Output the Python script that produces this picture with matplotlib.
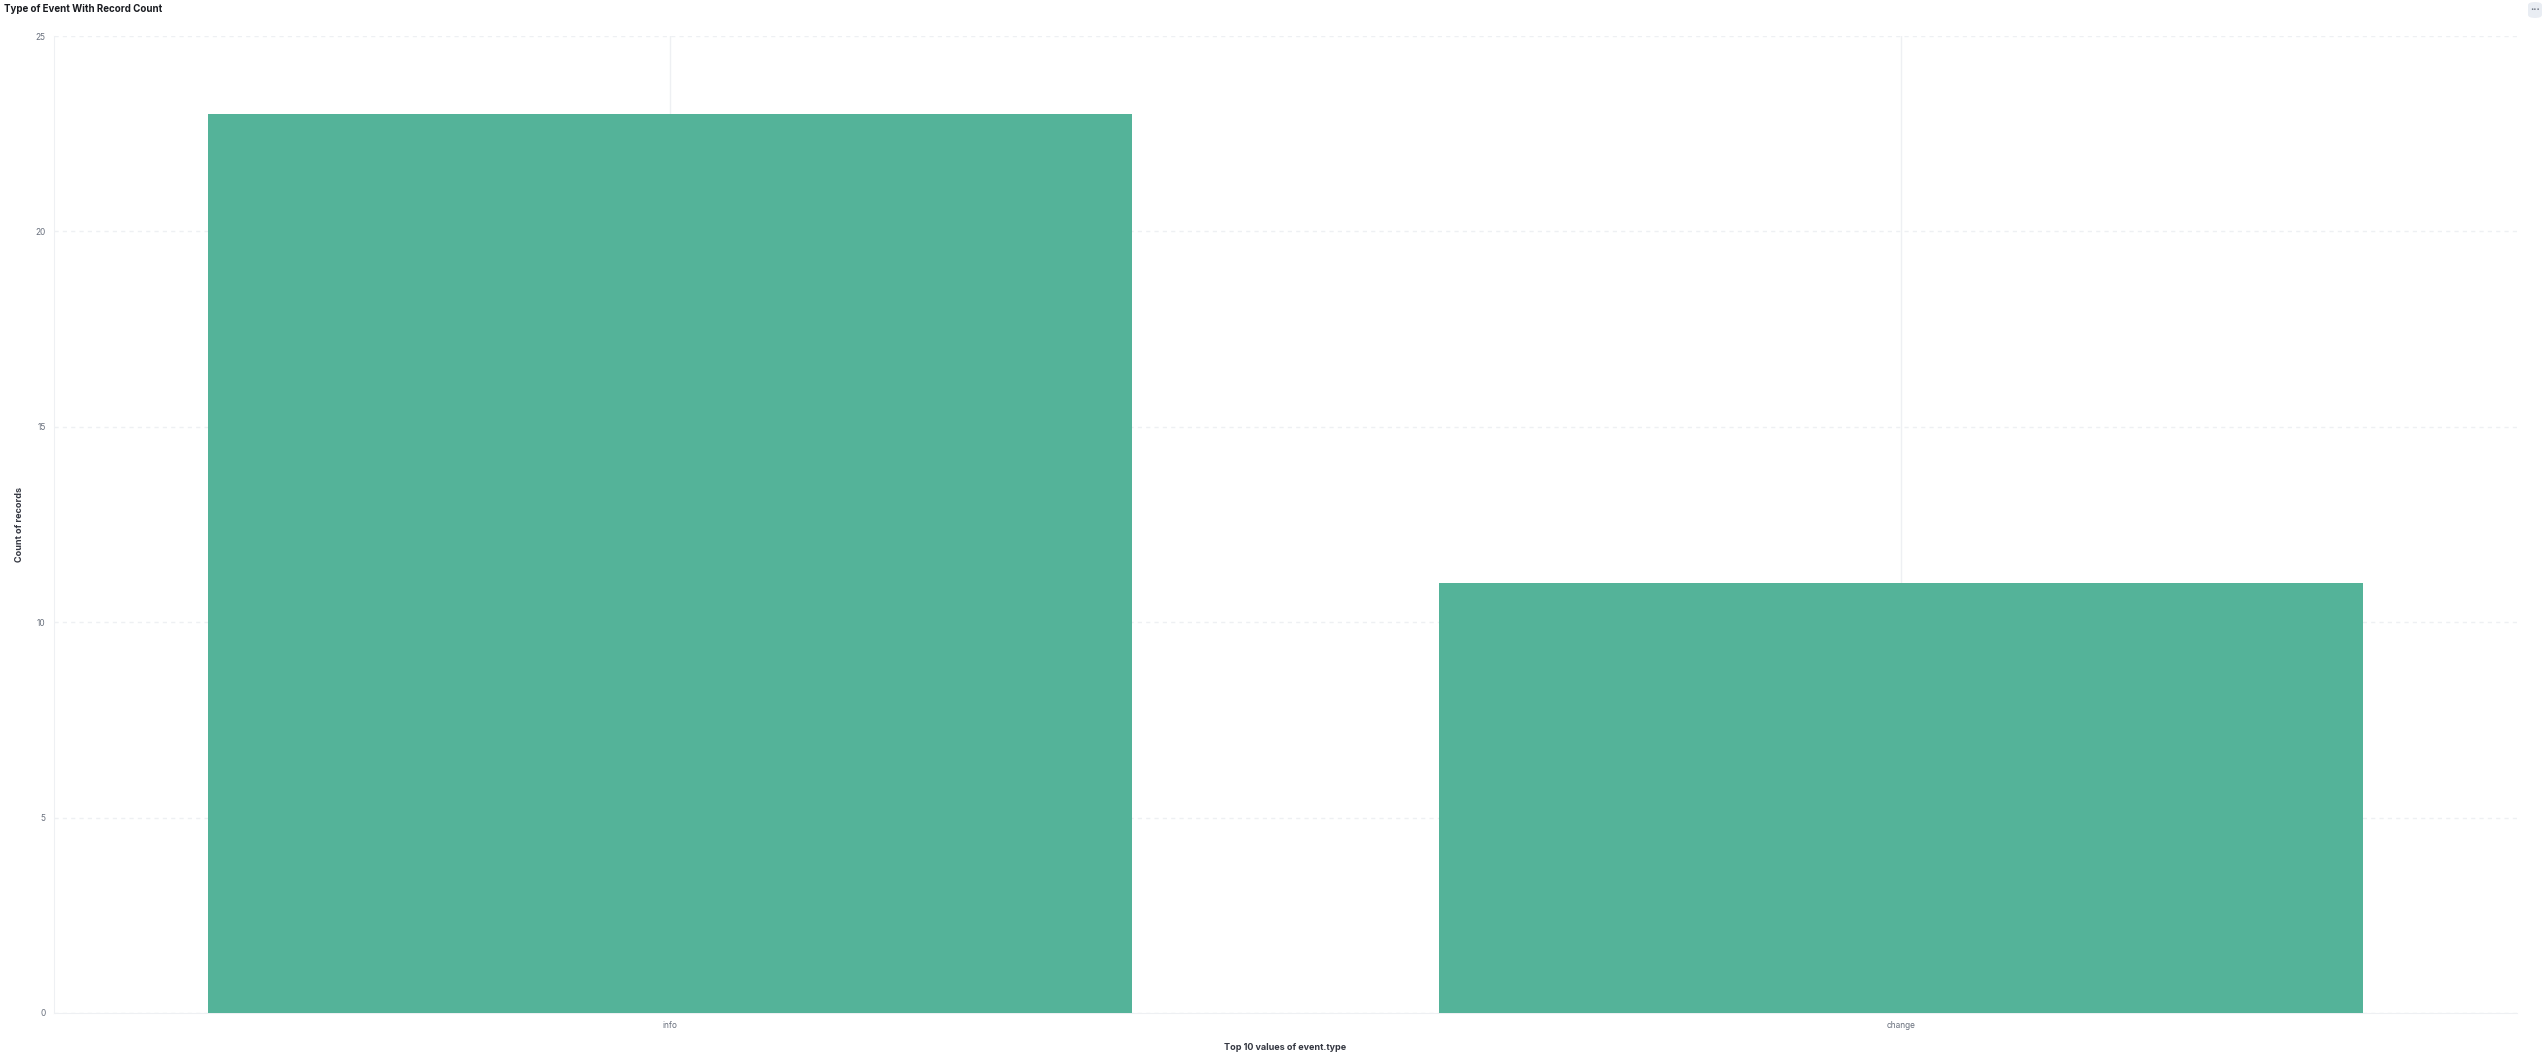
import matplotlib.pyplot as plt
from matplotlib.patches import FancyBboxPatch

categories = ["info", "change"]
counts = [23, 11]
y_ticks = [0, 5, 10, 15, 20, 25]

plt.rcParams['font.family'] = ['Inter', 'DejaVu Sans']

W, H = 2543, 1063
fig = plt.figure(figsize=(W / 100, H / 100), dpi=100)
ax = fig.add_axes([54 / W, (H - 1013) / H, 2463 / W, 977 / H])

x = range(len(categories))
ax.bar(x, counts, width=0.75, color="#54B399", linewidth=0, zorder=3)

ax.set_xlim(-0.5, len(categories) - 0.5)
ax.set_ylim(0, 25)
ax.set_yticks(y_ticks)
ax.set_xticks(list(x))
ax.set_xticklabels(categories)

ax.grid(axis="y", color="#eef0f3", linestyle=(0, (3, 3)), linewidth=1, zorder=0)
ax.grid(axis="x", color="#eef0f3", linestyle="-", linewidth=1, zorder=0)

for s in ["top", "right"]:
    ax.spines[s].set_visible(False)
ax.spines["left"].set_color("#eef0f3")
ax.spines["bottom"].set_color("#eef0f3")
ax.tick_params(axis="x", length=0, labelsize=6, labelcolor="#69707d", pad=6)
ax.tick_params(axis="y", length=0, labelsize=6, labelcolor="#69707d", pad=6)

ax.set_ylabel("Count of records", fontsize=6.5, fontweight="bold", color="#343741", labelpad=8)
ax.set_xlabel("Top 10 values of event.type", fontsize=6.5, fontweight="bold", color="#343741", labelpad=9)

fig.text(4 / W, 1 - 9 / H, "Type of Event With Record Count", fontsize=7, fontweight="bold",
         color="#1a1c21", va="center", ha="left")

# options button in top-right corner
btn = FancyBboxPatch((2528 / W, 1 - 18 / H), 14 / W, 16 / H,
                     boxstyle="round,pad=0,rounding_size=0.003",
                     transform=fig.transFigure, facecolor="#e9edf3", edgecolor="none")
fig.patches.append(btn)
fig.text(2535 / W, 1 - 9 / H, "•••", fontsize=4, color="#69707d", ha="center", va="center")

fig.savefig("out.png", dpi=100)
